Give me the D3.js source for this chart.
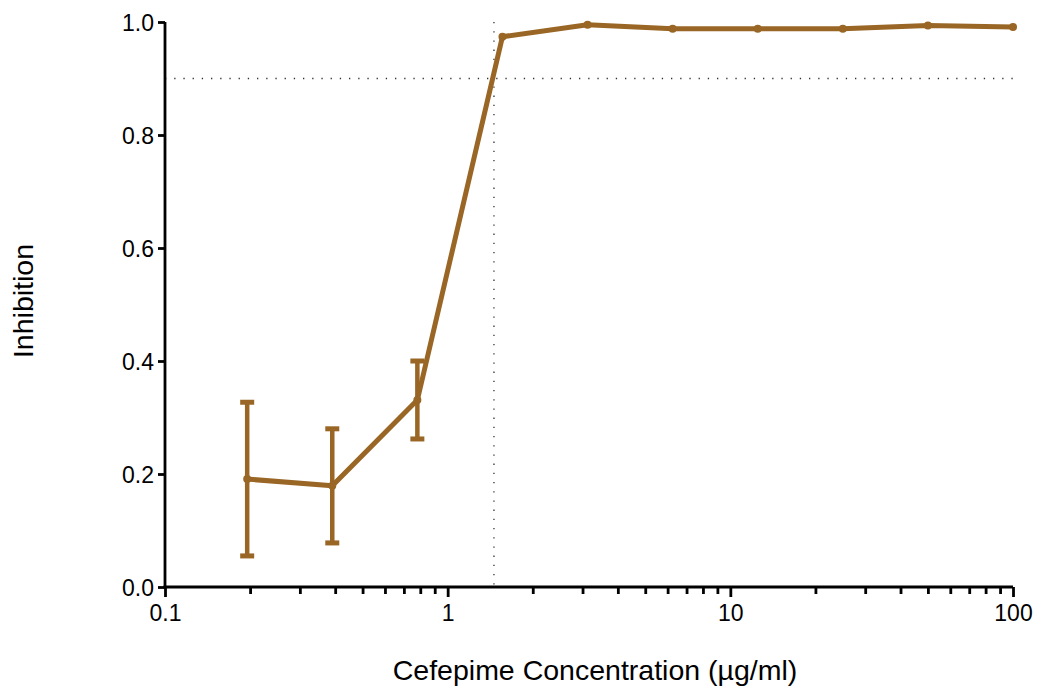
<!DOCTYPE html>
<html lang="en">
<head>
    <meta charset="UTF-8">
    <title>Cefepime Inhibition</title>
    <script src="https://d3js.org/d3.v7.min.js"></script>
    <style>
        * { margin: 0; padding: 0; box-sizing: border-box; }
        body { background: #fff; overflow: hidden; }
        text { font-family: 'Liberation Sans', Arial, sans-serif; fill: #000; }
    </style>
</head>
<body>
    <div id="chart"></div>
    <script>
        // concentrations (µg/ml) and mean inhibition with error
        const concentration = [0.1953125, 0.390625, 0.78125, 1.5625, 3.125, 6.25, 12.5, 25, 50, 100];
        const inhibition = [0.191, 0.179, 0.331, 0.974, 0.995, 0.988, 0.988, 0.988, 0.994, 0.991];
        const errorSD = [0.136, 0.101, 0.069, 0, 0, 0, 0, 0, 0, 0];

        const xMajorTicks = [0.1, 1, 10, 100];
        const xMinorTicks = [0.2, 0.3, 0.4, 0.5, 0.6, 0.7, 0.8, 0.9, 2, 3, 4, 5, 6, 7, 8, 9, 20, 30, 40, 50, 60, 70, 80, 90];
        const yTicks = [0, 0.2, 0.4, 0.6, 0.8, 1.0];

        const thresholdY = 0.9;
        const thresholdX = 1.458;

        const width = 1039, height = 689;
        const margin = { top: 22, right: 26, bottom: 102, left: 165 };
        const color = '#996625';

        const svg = d3.select('#chart').append('svg')
            .attr('width', width)
            .attr('height', height);

        const x = d3.scaleLog()
            .domain([0.1, 100])
            .range([margin.left, width - margin.right]);

        const y = d3.scaleLinear()
            .domain([0, 1])
            .range([height - margin.bottom, margin.top]);

        // dotted reference lines
        svg.append('line')
            .attr('x1', x(0.1)).attr('x2', x(100))
            .attr('y1', y(thresholdY)).attr('y2', y(thresholdY))
            .attr('stroke', '#333').attr('stroke-width', 1.3)
            .attr('stroke-dasharray', '1.3,7.9');

        svg.append('line')
            .attr('x1', x(thresholdX)).attr('x2', x(thresholdX))
            .attr('y1', y(1)).attr('y2', y(0))
            .attr('stroke', '#333').attr('stroke-width', 1.3)
            .attr('stroke-dasharray', '1.3,7.9');

        // axes
        const yAxis = svg.append('g')
            .attr('transform', `translate(${margin.left},0)`)
            .call(d3.axisLeft(y).tickValues(yTicks).tickFormat(d3.format('.1f'))
                .tickSize(7).tickSizeOuter(0).tickPadding(4));

        const xMinor = svg.append('g')
            .attr('transform', `translate(0,${height - margin.bottom})`)
            .call(d3.axisBottom(x).tickValues(xMinorTicks).tickFormat('')
                .tickSize(7).tickSizeOuter(0));

        const xAxis = svg.append('g')
            .attr('transform', `translate(0,${height - margin.bottom})`)
            .call(d3.axisBottom(x).tickValues(xMajorTicks).tickFormat(d3.format('~g'))
                .tickSize(10).tickSizeOuter(0).tickPadding(8));

        [yAxis, xMinor, xAxis].forEach(g => {
            g.selectAll('path, line').attr('stroke', '#000').attr('stroke-width', 2.8);
            g.selectAll('text').style('font-size', '23px').attr('fill', '#000');
        });
        yAxis.selectAll('path').attr('d', `M0,${y(1)}V${y(0) + 1.4}`);
        xAxis.selectAll('path').attr('d', `M${x(0.1) - 1.4},0H${x(100)}`);
        xMinor.select('path').remove();
        yAxis.selectAll('text').attr('dy', '0.36em');

        // axis titles
        svg.append('text')
            .attr('x', (x(0.1) + x(100)) / 2 + 6)
            .attr('y', 680)
            .attr('text-anchor', 'middle')
            .style('font-size', '28.5px')
            .text('Cefepime Concentration (µg/ml)');

        svg.append('text')
            .attr('transform', 'translate(33,301) rotate(-90)')
            .attr('text-anchor', 'middle')
            .style('font-size', '28.5px')
            .text('Inhibition');

        const points = concentration.map((c, i) => ({ c, v: inhibition[i], e: errorSD[i] }));

        // error bars
        const bars = svg.append('g').attr('stroke', color).attr('stroke-width', 4.5);
        points.filter(d => d.e > 0).forEach(d => {
            const cx = x(d.c);
            bars.append('line')
                .attr('x1', cx).attr('x2', cx)
                .attr('y1', y(d.v + d.e)).attr('y2', y(d.v - d.e));
            [d.v + d.e, d.v - d.e].forEach(v => {
                bars.append('line')
                    .attr('x1', cx - 7).attr('x2', cx + 7)
                    .attr('y1', y(v)).attr('y2', y(v))
                    .attr('stroke-width', 5);
            });
        });

        // data line
        const line = d3.line().x(d => x(d.c)).y(d => y(d.v));
        svg.append('path')
            .datum(points)
            .attr('d', line)
            .attr('fill', 'none')
            .attr('stroke', color)
            .attr('stroke-width', 5)
            .attr('stroke-linejoin', 'round');

        svg.append('g').selectAll('circle')
            .data(points)
            .join('circle')
            .attr('cx', d => x(d.c))
            .attr('cy', d => y(d.v))
            .attr('r', 4)
            .attr('fill', color);
    </script>
</body>
</html>
